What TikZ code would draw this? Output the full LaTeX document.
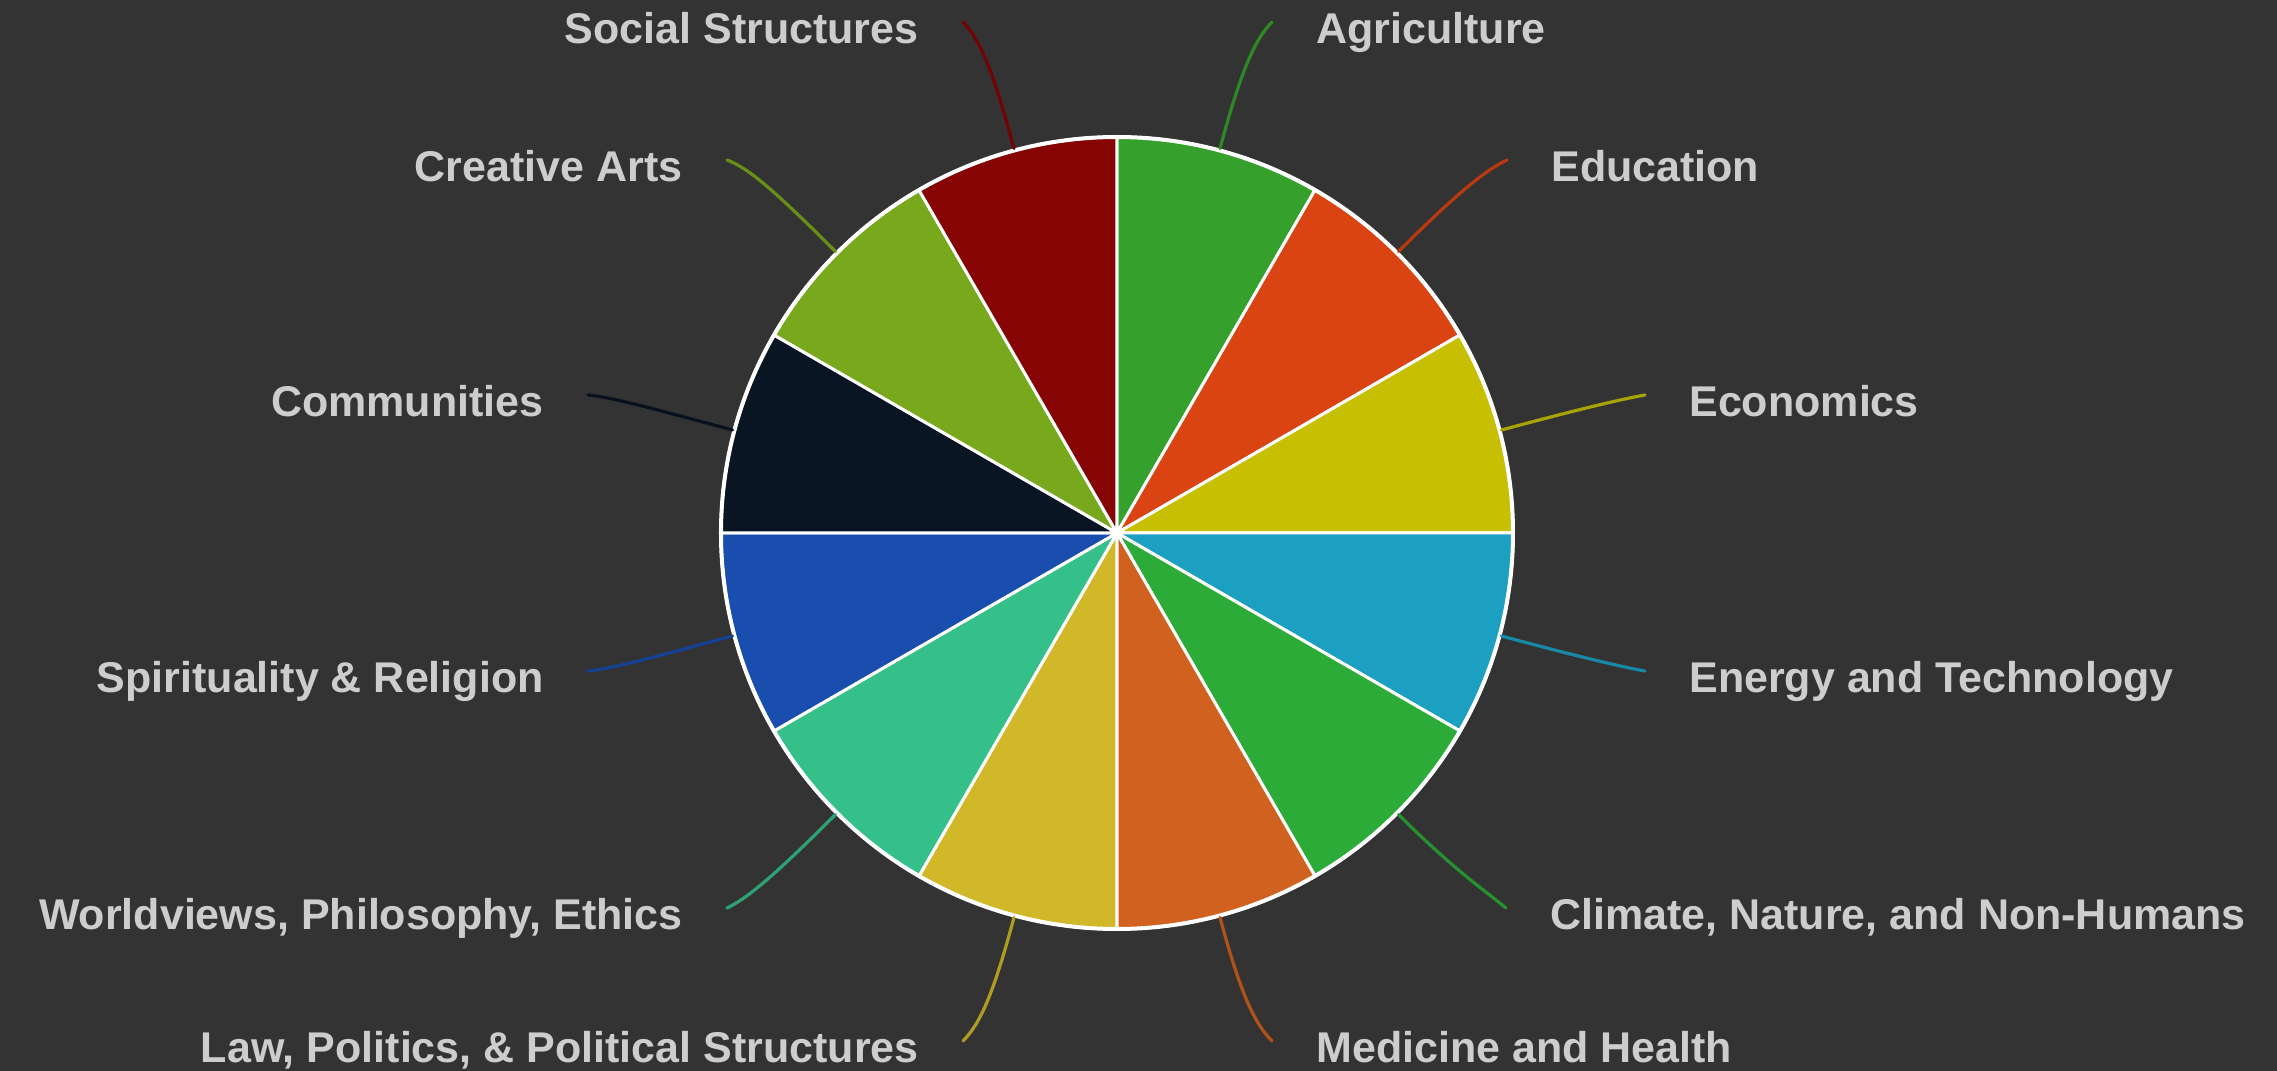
\documentclass[tikz,border=0pt]{standalone}
\usepackage{fontspec}
\usetikzlibrary{positioning}
\newfontfamily\tagfont{Liberation Sans}
\definecolor{bg}{HTML}{333333}
\definecolor{tagtext}{HTML}{CDCDCD}
\definecolor{cAgri}{HTML}{36A02C}
\definecolor{cEdu}{HTML}{DA4312}
\definecolor{cEcon}{HTML}{C6BF02}
\definecolor{cEnergy}{HTML}{1BA0C2}
\definecolor{cClimate}{HTML}{2CAB38}
\definecolor{cMed}{HTML}{D0611F}
\definecolor{cLaw}{HTML}{D0B828}
\definecolor{cWorld}{HTML}{35C08A}
\definecolor{cSpirit}{HTML}{1A4EAE}
\definecolor{cComm}{HTML}{0A1524}
\definecolor{cArts}{HTML}{78A81C}
\definecolor{cSocial}{HTML}{860404}
\begin{document}
\begin{tikzpicture} [
            x=0.5pt, y=0.5pt,
            slice/.style={draw=white,line width=1.5pt},
            rim/.style={draw=white,line width=2pt},
            lead/.style={line width=1.6pt,line cap=round},
            tag/.style={text=tagtext,font=\tagfont\bfseries\fontsize{21.5}{24}\selectfont,
                inner sep=0pt,text height=15.4pt,text depth=0pt},
        ]
        \fill[bg] (-1117,-538) rectangle (1160,533);
        \coordinate (c) at (0,0);
        % slices
        \foreach \a/\col in {
                60/cAgri, 30/cEdu, 0/cEcon, -30/cEnergy, -60/cClimate, -90/cMed,
                -120/cLaw, -150/cWorld, 180/cSpirit, 150/cComm, 120/cArts, 90/cSocial}
            \filldraw[slice,fill=\col] (c) -- (\a:396) arc[start angle=\a,delta angle=30,radius=396] -- cycle;
        \draw[rim] (c) circle[radius=396];
        % leaders
        \foreach \m/\col/\name/\ex/\ey/\inA in {
                75/cAgri/agri/155/511/225, 45/cEdu/edu/390/373/205,
                15/cEcon/econ/528/138/190, -15/cEnergy/energy/528/-138/170,
                -45/cClimate/climate/389/-375/140, -75/cMed/med/155/-508/135,
                -105/cLaw/law/-154/-508/45, -135/cWorld/world/-390/-375/25,
                -165/cSpirit/spirit/-529/-138/5, 165/cComm/comm/-529/138/-5,
                135/cArts/arts/-390/373/-20, 105/cSocial/social/-154/511/-45} {
            \coordinate (s-\name) at (\m:398);
            \coordinate (e-\name) at (\ex,\ey);
            \draw[lead,\col!85!black] (s-\name) to[out=\m,in=\inA,out distance=40pt,in distance=12pt] (e-\name);
        }
        % labels
        \foreach \name/\txt in {
                {agri/Agriculture}, {edu/Education}, {econ/Economics},
                {energy/Energy and Technology}, {climate/Climate, Nature, and Non-Humans},
                {med/Medicine and Health}}
            \node[tag,right=22pt of e-\name,yshift=-3pt] (\name) {\txt};
        \foreach \name/\txt in {
                {social/Social Structures}, {arts/Creative Arts}, {comm/Communities},
                {spirit/Spirituality \& Religion}, {world/Worldviews, Philosophy, Ethics},
                {law/Law, Politics, \& Political Structures}}
            \node[tag,left=22pt of e-\name,yshift=-3pt] (\name) {\txt};
    \end{tikzpicture}
\end{document}
